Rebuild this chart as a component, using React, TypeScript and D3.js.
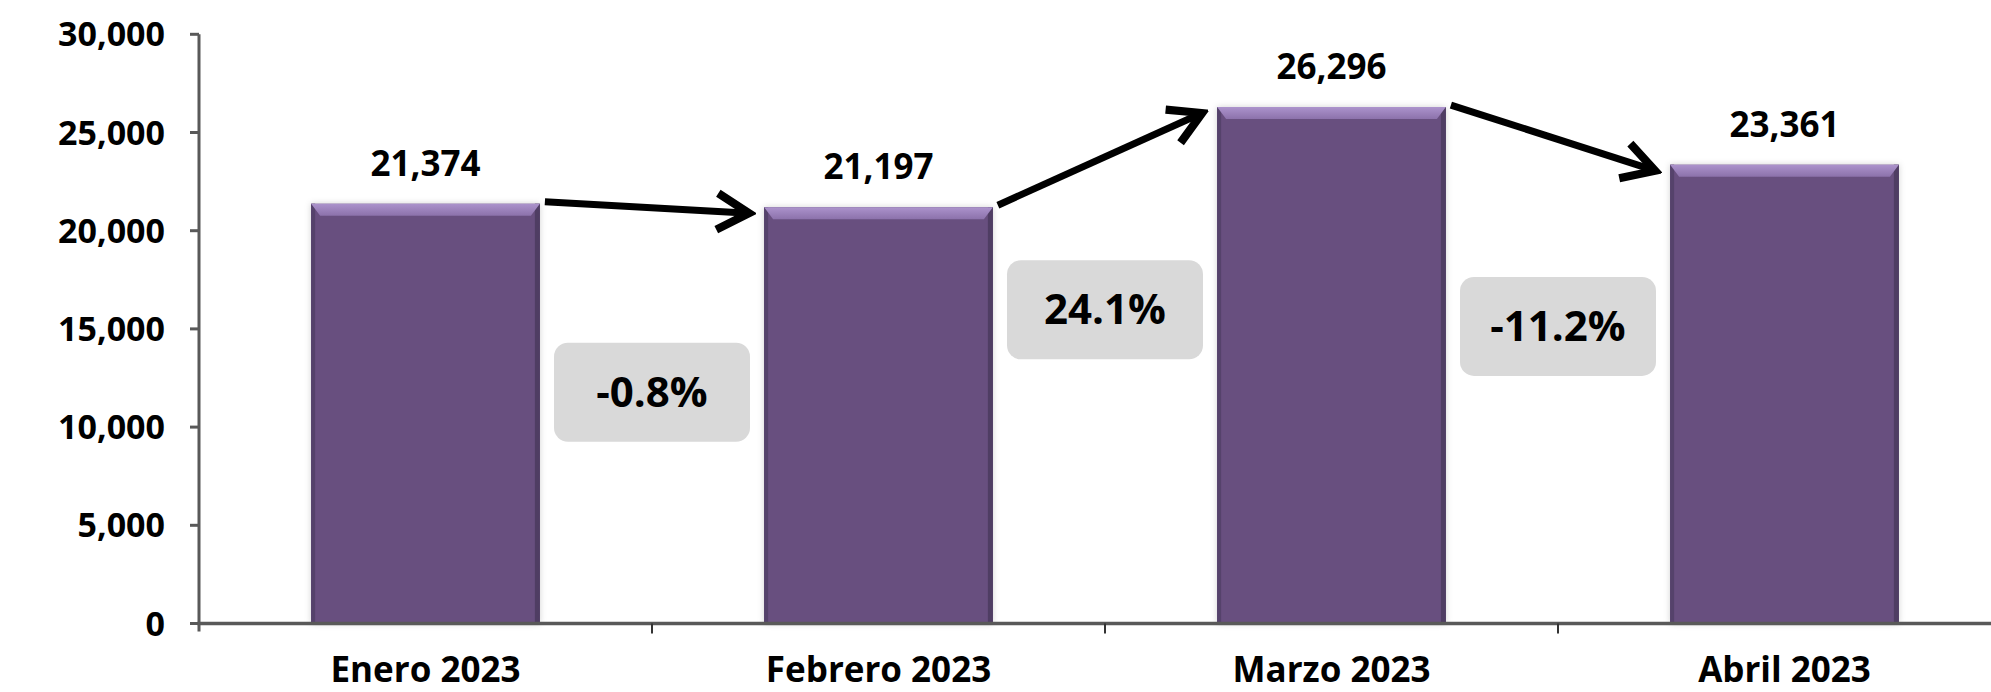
import React, { useEffect } from 'react';
import * as d3 from 'd3';

// data
const months = ['Enero 2023', 'Febrero 2023', 'Marzo 2023', 'Abril 2023'];
const totals = [21374, 21197, 26296, 23361];
const yTicks = [0, 5000, 10000, 15000, 20000, 25000, 30000];
// where each change badge sits, in chart units
const badgeLevels = [11800, 16000, 15150];

const W = 1991;
const H = 692;
const FONT = '"Open Sans", "Liberation Sans", Arial, sans-serif';

const App = () => {
  useEffect(() => {
    document.body.style.margin = '0';
  }, []);

  const x = d3.scaleBand<string>()
    .domain(months)
    .range([199, 199 + 4 * 453])
    .paddingInner(0.495)
    .paddingOuter(0.2475);
  const y = d3.scaleLinear().domain([0, 30000]).range([623.5, 34.3]);

  const fmt = d3.format(',');
  // plain hyphen for negatives, like the original
  const pct = (v: number) => d3.format('.1%')(v).replace('\u2212', '-');
  const changes = totals.slice(1).map((v, i) => (v - totals[i]) / totals[i]);

  const bw = x.bandwidth();
  const step = x.step();
  const y0 = y(0);

  return (
    <svg width={W} height={H} style={{ display: 'block', background: '#fff' }}>
      <defs>
        <filter id="sh" x="-10%" y="-10%" width="120%" height="120%">
          <feDropShadow dx="0" dy="0" stdDeviation="3" floodColor="#000" floodOpacity="0.18" />
        </filter>
        <linearGradient id="bevel" x1="0" y1="0" x2="0" y2="1">
          <stop offset="0" stopColor="#ac93cc" />
          <stop offset="1" stopColor="#8c72ab" />
        </linearGradient>
        <marker id="head" viewBox="0 0 20 20" refX="17" refY="10" markerWidth="6.5" markerHeight="6.5"
          orient="auto" markerUnits="strokeWidth">
          <path d="M3,2 L17,10 L3,18" fill="none" stroke="#000" strokeWidth="3.6" strokeLinecap="butt" />
        </marker>
      </defs>

      {/* bars */}
      {months.map((m, i) => {
        const bx = x(m)!;
        const by = y(totals[i]);
        return (
          <g key={m}>
            <rect x={bx} y={by} width={bw} height={y0 - by} fill="#67507f" filter="url(#sh)" />
            <rect x={bx} y={by} width={4} height={y0 - by} fill="#55426b" />
            <rect x={bx + bw - 5} y={by} width={5} height={y0 - by} fill="#4f3d63" />
            <path d={`M${bx},${by} L${bx + bw},${by} L${bx + bw - 9},${by + 12} L${bx + 9},${by + 12} Z`}
              fill="url(#bevel)" />
            <text x={bx + bw / 2} y={by - 28} textAnchor="middle" fontFamily={FONT}
              fontWeight={700} fontSize={35} fill="#000">{fmt(totals[i])}</text>
          </g>
        );
      })}

      {/* arrows between bars */}
      {changes.map((c, i) => {
        const x1 = x(months[i])! + bw + 5;
        const y1 = y(totals[i]) - 2;
        const x2 = x(months[i + 1])! - 15;
        const y2 = y(totals[i + 1]) + 6;
        return (
          <line key={'a' + i} x1={x1} y1={y1} x2={x2} y2={y2} stroke="#000" strokeWidth={7}
            markerEnd="url(#head)" />
        );
      })}

      {/* change badges */}
      {changes.map((c, i) => {
        const cx = x(months[i])! + bw / 2 + step / 2;
        const cy = y(badgeLevels[i]);
        return (
          <g key={'b' + i}>
            <rect x={cx - 98} y={cy - 49} width={196} height={99} rx={14} fill="#d9d9d9" />
            <text x={cx} y={cy + 15} textAnchor="middle" fontFamily={FONT} fontWeight={700}
              fontSize={42} fill="#000">{pct(c)}</text>
          </g>
        );
      })}

      {/* y axis */}
      <line x1={199} x2={199} y1={y(30000)} y2={y0 + 8} stroke="#595959" strokeWidth={3} />
      {yTicks.map(t => (
        <g key={t}>
          <line x1={190} x2={199} y1={y(t)} y2={y(t)} stroke="#595959" strokeWidth={3} />
          <text x={165} y={y(t) + 12} textAnchor="end" fontFamily={FONT} fontWeight={700}
            fontSize={34} fill="#000">{fmt(t)}</text>
        </g>
      ))}

      {/* x axis */}
      <line x1={197.5} x2={W} y1={y0} y2={y0} stroke="#595959" strokeWidth={3.5} />
      {months.slice(1).map(m => (
        <line key={'t' + m} x1={x(m)! - step * 0.2475} x2={x(m)! - step * 0.2475} y1={y0} y2={y0 + 10}
          stroke="#333" strokeWidth={2} />
      ))}
      {months.map(m => (
        <text key={'l' + m} x={x(m)! + bw / 2} y={682} textAnchor="middle" fontFamily={FONT}
          fontWeight={700} fontSize={35} fill="#000">{m}</text>
      ))}
    </svg>
  );
};

export default App;
